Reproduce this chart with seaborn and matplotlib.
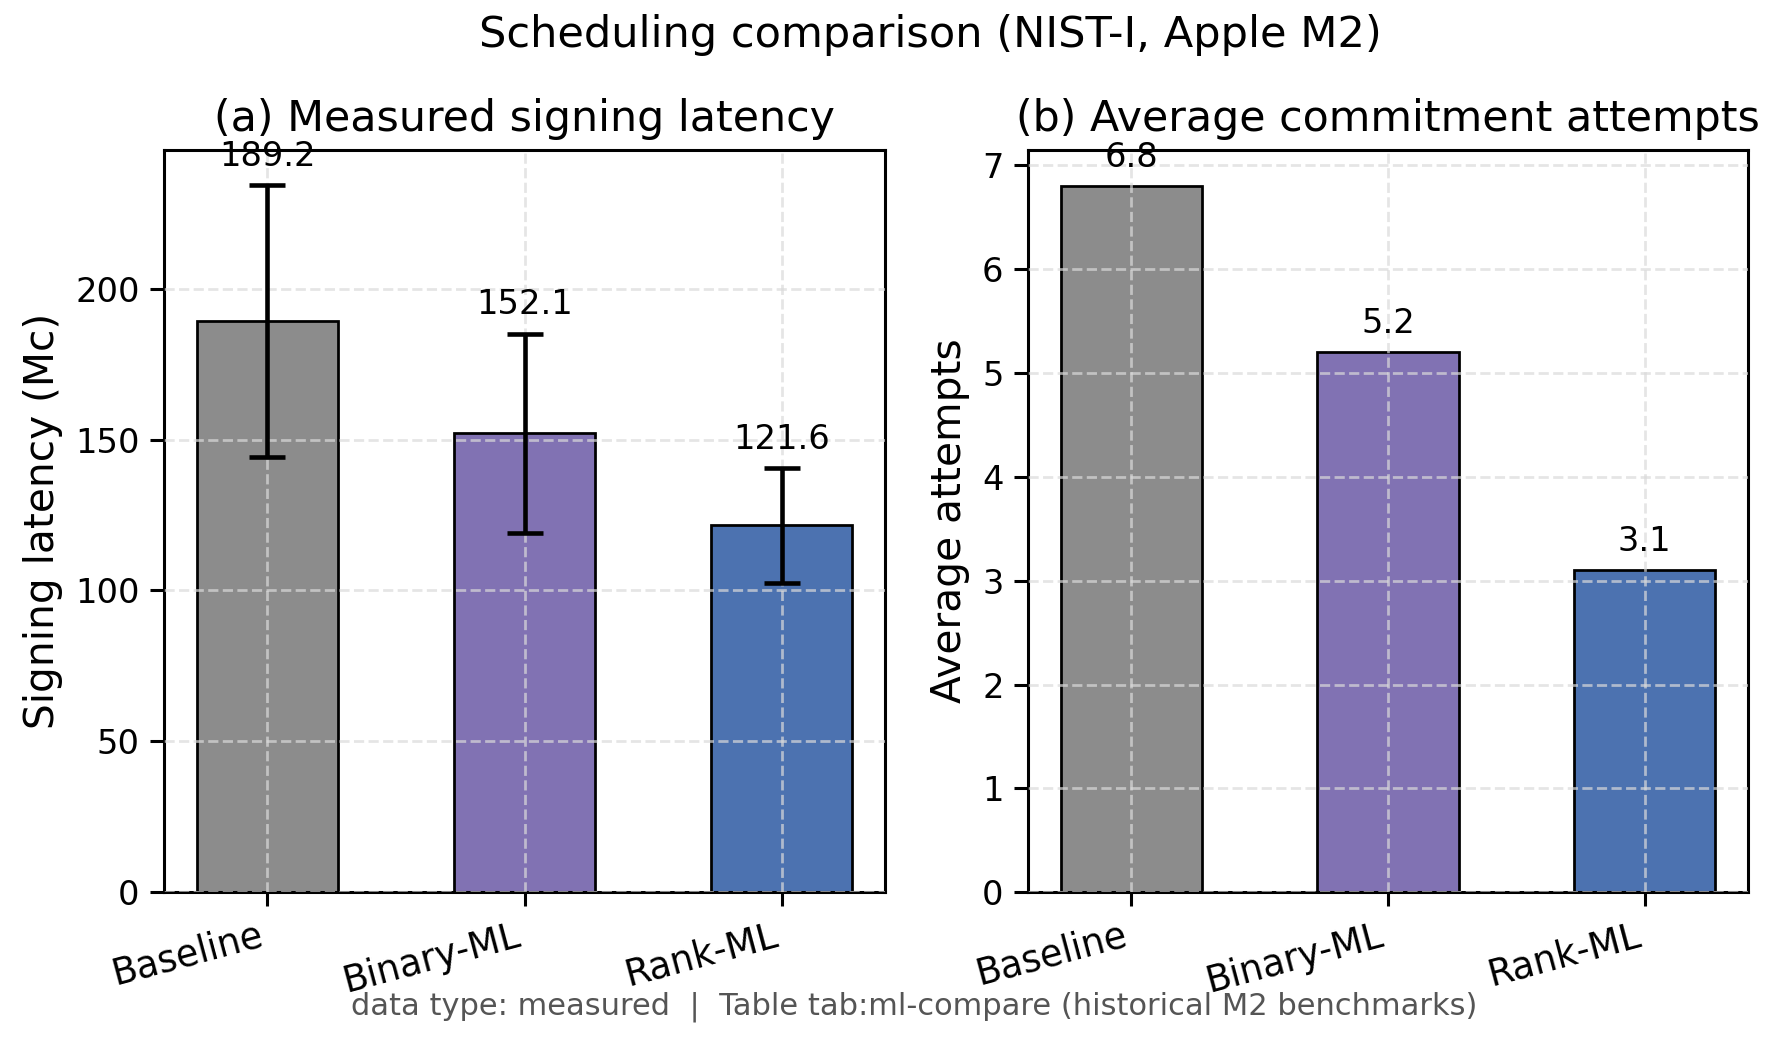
import matplotlib
matplotlib.use("Agg")
import matplotlib.pyplot as plt
import seaborn as sns
import pandas as pd

methods = ["Baseline", "Binary-ML", "Rank-ML"]
latency = [189.2, 152.1, 121.6]
latency_err = [45.0, 33.0, 19.0]
attempts = [6.8, 5.2, 3.1]
colors = ["#8c8c8c", "#8172b3", "#4c72b0"]

sns.set_theme(style="ticks")
plt.rcParams["font.family"] = ["DejaVu Sans"]
plt.rcParams["font.size"] = 11
for k in ["text.color", "axes.labelcolor", "xtick.color", "ytick.color", "axes.edgecolor"]:
    plt.rcParams[k] = "black"

df = pd.DataFrame({"method": methods, "latency": latency, "err": latency_err, "attempts": attempts})

DPI = 220
fig = plt.figure(figsize=(1778 / DPI, 1040 / DPI), dpi=DPI)
ax1 = fig.add_axes([164 / 1778, 0.142, 721 / 1778, 0.714])
ax2 = fig.add_axes([1028 / 1778, 0.142, 720 / 1778, 0.714])
axes = [ax1, ax2]

pal = dict(zip(methods, colors))
sns.barplot(data=df, x="method", y="latency", hue="method", palette=pal, ax=ax1,
            width=0.55, edgecolor="black", linewidth=0.9, legend=False, saturation=1)
ax1.errorbar(range(len(methods)), latency, yerr=latency_err, fmt="none", ecolor="black",
             elinewidth=1.5, capsize=6, capthick=1.5, zorder=5)
sns.barplot(data=df, x="method", y="attempts", hue="method", palette=pal, ax=ax2,
            width=0.55, edgecolor="black", linewidth=0.9, legend=False, saturation=1)

for i, (v, e) in enumerate(zip(latency, latency_err)):
    ax1.annotate(f"{v:.1f}", (i, v + e), xytext=(0, 4), textcoords="offset points",
                 ha="center", va="bottom", fontsize=11)
for i, v in enumerate(attempts):
    ax2.annotate(f"{v:.1f}", (i, v), xytext=(0, 4), textcoords="offset points",
                 ha="center", va="bottom", fontsize=11)

ax1.set_ylim(0, 246)
ax2.set_ylim(0, 7.15)
ax1.set_yticks([0, 50, 100, 150, 200])
for ax in axes:
    ax.set_xlim(-0.4025, 2.4025)
    ax.set_xlabel("")
    ax.grid(True, linestyle="--", color="#dadada", alpha=0.7, linewidth=0.9)
    ax.set_axisbelow(False)
    ax.tick_params(axis="y", labelsize=11, length=4.5, width=1.0, color="black")
    ax.tick_params(axis="x", labelsize=12, length=4.5, width=1.0, color="black")
    plt.setp(ax.get_xticklabels(), rotation=15, ha="right")
    for s in ax.spines.values():
        s.set_linewidth(1.0)
        s.set_color("black")

ax1.set_ylabel("Signing latency (Mc)", fontsize=13.3)
ax2.set_ylabel("Average attempts", fontsize=13.3)
ax1.set_title("(a) Measured signing latency", fontsize=14)
ax2.set_title("(b) Average commitment attempts", fontsize=14)
fig.suptitle("Scheduling comparison (NIST-I, Apple M2)", fontsize=14.1, x=0.523, y=0.966, va="center")
fig.text(0.514, 0.032, "data type: measured  |  Table tab:ml-compare (historical M2 benchmarks)",
         ha="center", va="center", fontsize=10, color="#555555")

fig.savefig("out.png", dpi=DPI)
